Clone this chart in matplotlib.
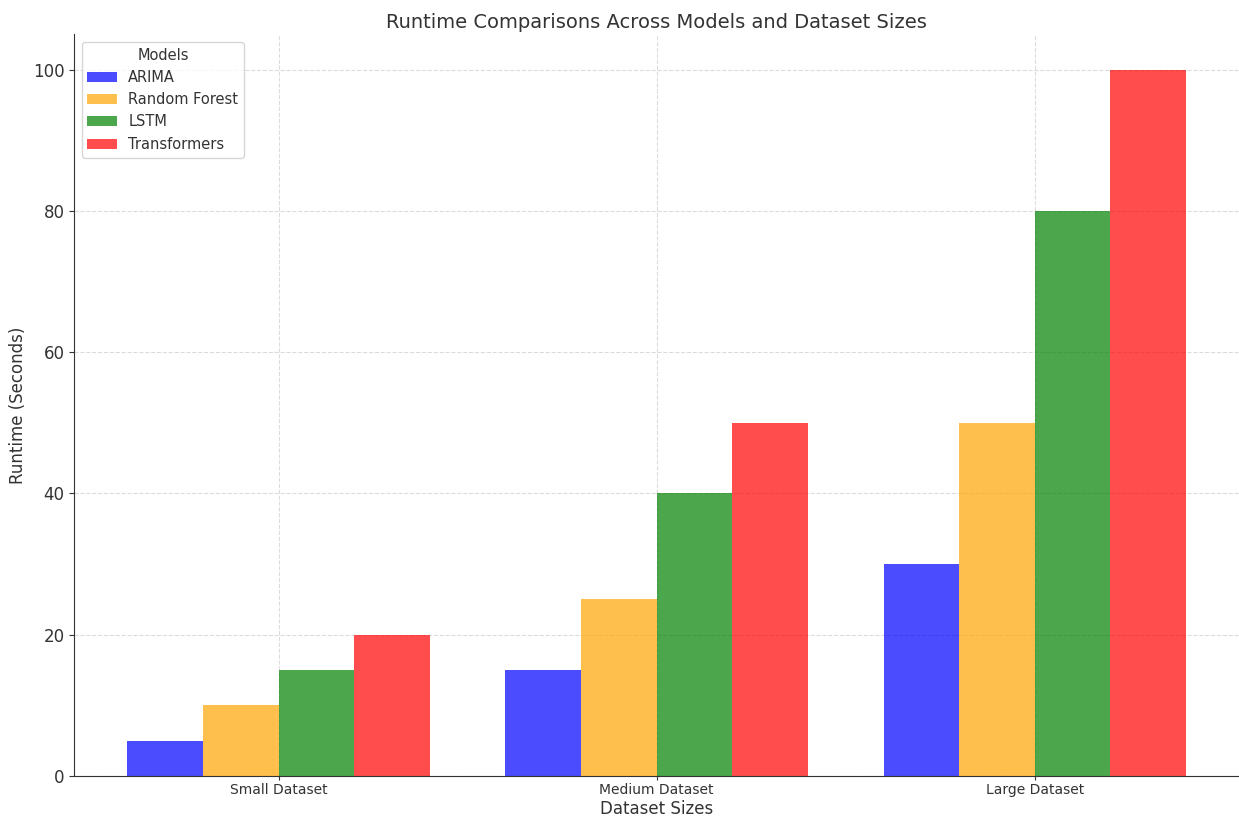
import matplotlib
matplotlib.use("Agg")
import matplotlib.pyplot as plt
import numpy as np

# runtime (seconds) per model for each dataset size
datasets = ["Small Dataset", "Medium Dataset", "Large Dataset"]
models = ["ARIMA", "Random Forest", "LSTM", "Transformers"]
arima = [5, 15, 30]
random_forest = [10, 25, 50]
lstm = [15, 40, 80]
transformers = [20, 50, 100]
colors = ["blue", "orange", "green", "red"]

plt.rcParams.update({
    "text.color": "#333333",
    "axes.labelcolor": "#333333",
    "xtick.color": "#333333",
    "ytick.color": "#333333",
    "axes.edgecolor": "#333333",
})

fig, ax = plt.subplots(figsize=(12.39, 8.21), dpi=100)

x = np.arange(len(datasets))
width = 0.2
series = [arima, random_forest, lstm, transformers]
for i, (vals, name, c) in enumerate(zip(series, models, colors)):
    ax.bar(x + (i - 1.5) * width, vals, width, label=name, color=c, alpha=0.7)

ax.set_title("Runtime Comparisons Across Models and Dataset Sizes", fontsize=14, pad=5)
ax.set_xlabel("Dataset Sizes", fontsize=12, labelpad=2)
ax.set_ylabel("Runtime (Seconds)", fontsize=12)
ax.set_xticks(x)
ax.set_xticklabels(datasets, fontsize=10)
ax.tick_params(axis="x", pad=2, length=3)
ax.tick_params(axis="y", labelsize=12)
ax.legend(title="Models", loc="upper left", fontsize=10.5, title_fontsize=10.5)
ax.grid(True, linestyle="--", alpha=0.7, color="#cccccc")
ax.set_axisbelow(True)
ax.spines["top"].set_visible(False)
ax.spines["right"].set_visible(False)

fig.subplots_adjust(left=0.06, right=1.0, bottom=0.055, top=0.958)
fig.savefig("out.png", dpi=100)
